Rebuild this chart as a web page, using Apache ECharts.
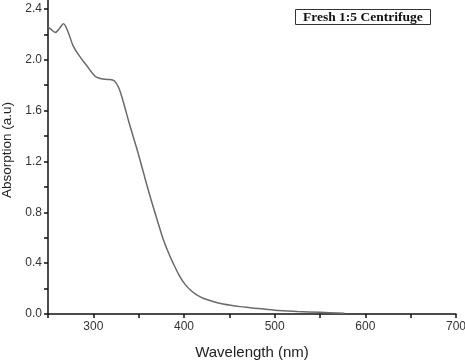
<!DOCTYPE html>
<html>
<head>
<meta charset="utf-8">
<script src="https://cdn.jsdelivr.net/npm/echarts@6/dist/echarts.min.js"></script>
<style>html,body{margin:0;padding:0;background:#fff;}#c{width:465px;height:361px;}</style>
</head>
<body>
<div id="c"></div>
<script>
var titleText = 'Fresh 1:5 Centrifuge';
var xName = 'Wavelength (nm)';
var yName = 'Absorption (a.u)';
var wavelength = [250,254,258,263,267,272,278,285,292,302,308,313,318,323,328,333,340,348,355,362,370,377,383,388,395,401,407,414,421,432,443,462,473,500,525,550,577];
var absorbance = [2.26,2.235,2.215,2.25,2.283,2.22,2.105,2.026,1.96,1.87,1.852,1.846,1.845,1.835,1.78,1.67,1.49,1.30,1.12,0.94,0.75,0.59,0.48,0.40,0.30,0.235,0.189,0.15,0.124,0.098,0.079,0.058,0.05,0.03,0.02,0.013,0.006];

var data = wavelength.map(function(w,i){return [w, absorbance[i]];});
var chart = echarts.init(document.getElementById('c'));
chart.setOption({
  animation: false,
  backgroundColor: '#fff',
  title: {
    text: titleText,
    left: 295, top: 11,
    borderColor: '#333', borderWidth: 1,
    padding: [1, 8, 0, 8],
    textStyle: {fontFamily: 'Liberation Serif', fontWeight: 'bold', fontSize: 13.5, lineHeight: 11, color: '#111'}
  },
  grid: {left: 48, right: 9, top: 0, bottom: 47, containLabel: false, outerBoundsMode: 'none'},
  xAxis: {
    type: 'value', min: 250, max: 700, interval: 50,
    name: xName, nameLocation: 'middle', nameGap: 31,
    nameTextStyle: {fontFamily: 'Liberation Sans', fontSize: 15, color: '#222'},
    axisLine: {show: true, lineStyle: {color: '#111', width: 1.5}},
    axisTick: {show: true, inside: false, length: 4, lineStyle: {color: '#111', width: 1.5}},
    axisLabel: {fontFamily: 'Liberation Sans', fontSize: 12, color: '#333', margin: 7,
      formatter: function(v){ return (v % 100 === 0 && v > 250) ? String(v) : ''; }},
    splitLine: {show: false}
  },
  yAxis: {
    type: 'value', min: 0, max: 2.47, interval: 0.2,
    name: yName, nameLocation: 'middle', nameGap: 34,
    nameTextStyle: {fontFamily: 'Liberation Sans', fontSize: 13.5, color: '#222', padding: [0, 0, 0, 14]},
    axisLine: {show: true, lineStyle: {color: '#111', width: 1.5}},
    axisTick: {show: true, inside: false, length: 4, lineStyle: {color: '#111', width: 1.5}},
    axisLabel: {fontFamily: 'Liberation Sans', fontSize: 12, color: '#333', margin: 6, showMaxLabel: false,
      formatter: function(v){ var k = Math.round(v*10); return (k % 4 === 0 && Math.abs(v*10 - k) < 1e-6) ? v.toFixed(1) : ''; }},
    splitLine: {show: false}
  },
  series: [{
    type: 'line', data: data, smooth: 0.35, showSymbol: false,
    lineStyle: {color: '#6a6a6a', width: 1.5}
  }]
});
</script>
</body>
</html>
